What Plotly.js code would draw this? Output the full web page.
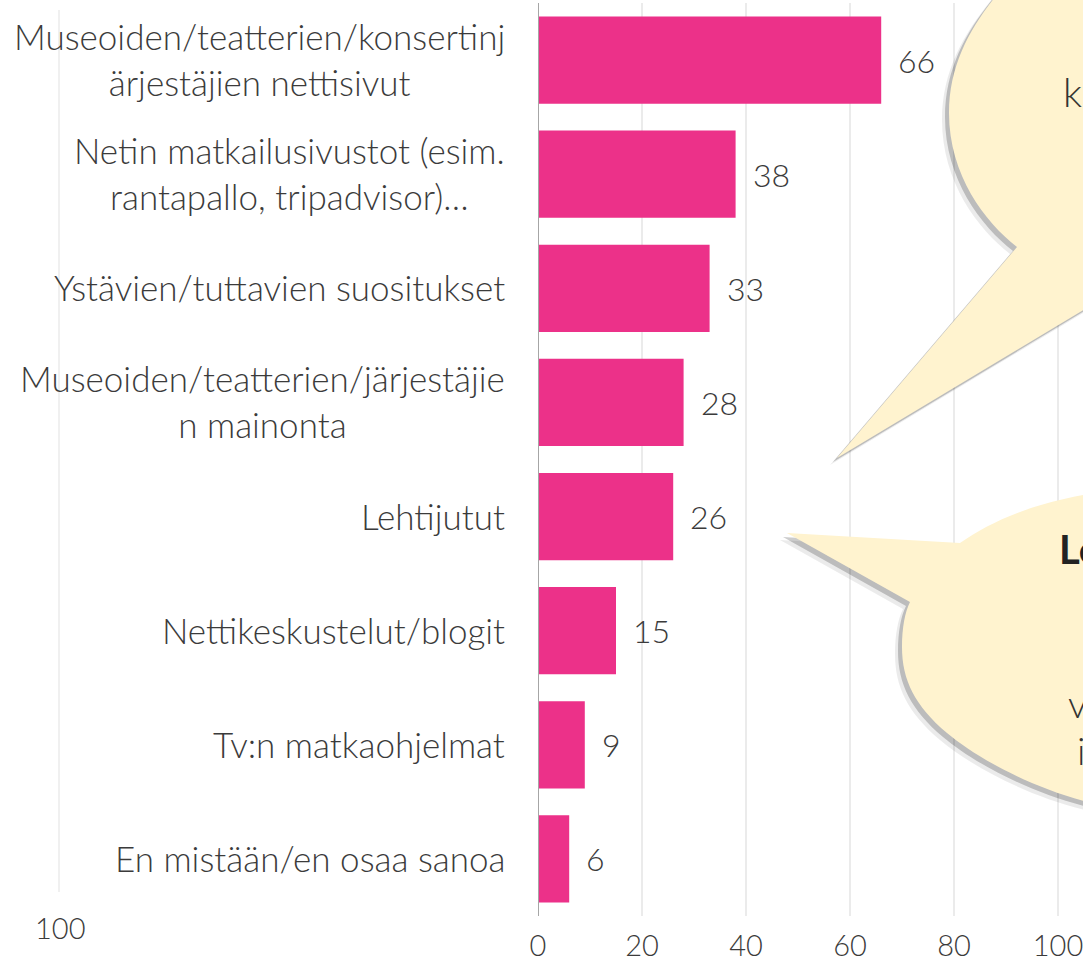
<!DOCTYPE html>
<html>
<head>
<meta charset="utf-8">
<script src="https://cdn.plot.ly/plotly-3.0.1.min.js"></script>
<style>html,body{margin:0;padding:0;background:#fff;}#chart{width:1083px;height:962px;}</style>
</head>
<body>
<div id="chart"></div>
<script>
// ---- data ----
const categories = [
  "Museoiden/teatterien/konsertinj<br>ärjestäjien nettisivut",
  "Netin matkailusivustot (esim.<br>rantapallo, tripadvisor)…",
  "Ystävien/tuttavien suositukset",
  "Museoiden/teatterien/järjestäjie<br>n mainonta",
  "Lehtijutut",
  "Nettikeskustelut/blogit",
  "Tv:n matkaohjelmat",
  "En mistään/en osaa sanoa"
];
const values = [66, 38, 33, 28, 26, 15, 9, 6];
const xTickValues = [0, 20, 40, 60, 80, 100];
const strayTickLabel = "100";
const bubbleTexts = ["k", "Le", "v", "i"];

// ---- layout helpers ----
const W = 1083, H = 962;
const L = 538, R = 0, T = 3, B = 46;
const pw = W - L - R, ph = H - T - B;
const pxPerUnit = 5.2;
function px(x){ return ((x - L) / pw).toFixed(5); }
function py(y){ return ((H - B - y) / ph).toFixed(5); }
function pathFrom(cmds, dx, dy){
  dx = dx || 0; dy = dy || 0;
  return cmds.map(c => {
    const op = c[0];
    const pts = [];
    for (let i = 1; i < c.length; i += 2) pts.push(px(c[i] + dx) + "," + py(c[i+1] + dy));
    return op + " " + pts.join(" ");
  }).join(" ") + " Z";
}

const font = "Lato, 'Open Sans', sans-serif";
const textColor = "#3b3b3b";

const upper = [
  ["M", 837, 458],
  ["L", 1017, 247],
  ["C", 985, 222, 949, 175, 949, 113],
  ["C", 949, 60, 975, 20, 1005, -15],
  ["L", 1130, -15],
  ["L", 1130, 282]
];
const lower = [
  ["M", 787, 533],
  ["L", 960, 543],
  ["C", 1000, 515, 1050, 497, 1130, 488],
  ["L", 1130, 810],
  ["C", 1060, 802, 985, 765, 947, 733],
  ["C", 915, 706, 902, 680, 902, 647],
  ["C", 902, 628, 905, 612, 910, 602]
];

const shapes = [];
[upper, lower].forEach(p => {
  shapes.push({type:"path", xref:"paper", yref:"paper", layer:"above",
    path: pathFrom(p, -7, 7), fillcolor:"rgba(0,0,0,0.08)", line:{width:0}});
  shapes.push({type:"path", xref:"paper", yref:"paper", layer:"above",
    path: pathFrom(p, -4, 4), fillcolor:"rgba(0,0,0,0.20)", line:{width:0}});
  shapes.push({type:"path", xref:"paper", yref:"paper", layer:"above",
    path: pathFrom(p, 0, 0), fillcolor:"#FFF3CF", line:{width:0}});
});
// stray gridline on the far left
shapes.push({type:"line", xref:"paper", yref:"paper", layer:"below",
  x0: px(59), x1: px(59), y0: py(10), y1: py(892), line:{color:"#EBEBEB", width:1.5}});

const annotations = [];
categories.forEach((c, i) => {
  annotations.push({x:0, xref:"paper", xanchor:"right", xshift:-31, y:i, yref:"y", yshift:1,
    yanchor:"middle", text:c, align:"center", showarrow:false,
    font:{family:font, size:35, weight:300, color:textColor}});
  annotations.push({x:values[i], xref:"x", xanchor:"left", xshift:15, y:i, yref:"y",
    yanchor:"middle", text:String(values[i]), showarrow:false,
    font:{family:font, size:32, weight:300, color:textColor}});
});
annotations.push({x:px(60), xref:"paper", y:py(928), yref:"paper", xanchor:"center", yanchor:"middle",
  text:strayTickLabel, showarrow:false, font:{family:font, size:29, weight:300, color:textColor}});
// partially visible bubble texts
annotations.push({x:px(1061), xref:"paper", y:py(92), yref:"paper", xanchor:"left", yanchor:"middle",
  text:bubbleTexts[0], showarrow:false, font:{family:font, size:40, weight:300, color:"#333"}});
annotations.push({x:px(1057), xref:"paper", y:py(549), yref:"paper", xanchor:"left", yanchor:"middle",
  text:"<b>"+bubbleTexts[1]+"</b>", showarrow:false, font:{family:font, size:40, color:"#222"}});
annotations.push({x:px(1066), xref:"paper", y:py(703), yref:"paper", xanchor:"left", yanchor:"middle",
  text:bubbleTexts[2], showarrow:false, font:{family:font, size:38, weight:300, color:"#333"}});
annotations.push({x:px(1075), xref:"paper", y:py(750), yref:"paper", xanchor:"left", yanchor:"middle",
  text:bubbleTexts[3], showarrow:false, font:{family:font, size:38, weight:300, color:"#333"}});

const trace = {
  type:"bar", orientation:"h",
  x: values,
  y: categories.map((c, i) => i),
  marker:{color:"#EC3189", line:{width:0}},
  width: 0.765,
  hoverinfo:"skip"
};

const layout = {
  width:W, height:H,
  margin:{l:L, r:R, t:T, b:B, pad:0},
  paper_bgcolor:"#fff", plot_bgcolor:"#fff",
  showlegend:false,
  bargap:0.235,
  xaxis:{range:[0, pw / pxPerUnit], tickvals:xTickValues, ticktext:xTickValues.map(String),
    showgrid:true, gridcolor:"#EBEBEB", gridwidth:1.5,
    zeroline:false, showline:false, ticks:"",
    ticklabelstandoff:10, ticklabeloverflow:"allow",
    tickfont:{family:font, size:29, weight:300, color:textColor}, fixedrange:true},
  yaxis:{range:[7.5, -0.5], showticklabels:false, showgrid:false, zeroline:false,
    showline:false, ticks:"", fixedrange:true},
  shapes: [{type:"line", xref:"x", yref:"paper", x0:0, x1:0, y0:0, y1:1.0,
    line:{color:"#A6A6A6", width:2}, layer:"above"}].concat(shapes),
  annotations: annotations
};

Plotly.newPlot("chart", [trace], layout, {displayModeBar:false, staticPlot:true});
</script>
</body>
</html>
